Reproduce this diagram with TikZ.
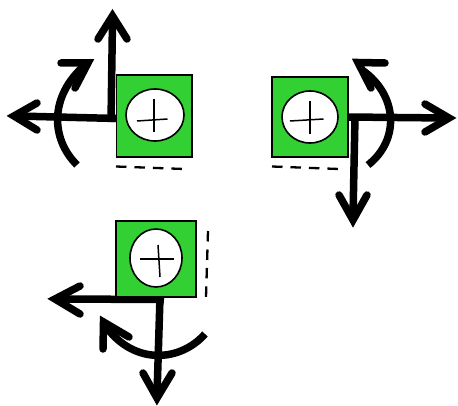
\documentclass[tikz,border=0pt]{standalone}
\tikzset{
  boxg/.style={draw=black,fill=boxgreen,line width=1.9pt,inner sep=0pt,minimum width=#1},
  wheel/.style={draw=black,fill=white,line width=1.6pt,ellipse,inner sep=0pt},
  thin cross/.style={line width=1.5pt},
  shaft/.style={line width=7.5pt,line cap=butt},
  head/.style={line width=7.5pt,line cap=round,line join=miter,miter limit=10},
  curved/.style={line width=7.5pt,line cap=butt},
  ground/.style={line width=2.3pt,dash pattern=on 10.5pt off 8pt},
}
\definecolor{boxgreen}{RGB}{50,208,50}
\usetikzlibrary{shapes.geometric}
\begin{document}
\begin{tikzpicture}[x=1pt,y=-1pt]
\useasboundingbox (0,0) rectangle (458,406);

% left upper
\draw[shaft] (111,122) -- (112.5,20);
\draw[shaft] (117,118.5) -- (16,116);
\draw[head] (98,39) -- (112.5,16) -- (127,39);
\draw[head] (37,103) -- (14,116) -- (37,130);
\draw[curved] (77,165) .. controls (50,138) and (50,96) .. (84,66);
\draw[head] (61,63) -- (88,63) -- (75,88);
\node[boxg=75.5pt,minimum height=82pt] (boxa) at (154.25,116) {};
\node[wheel,minimum width=58pt,minimum height=52pt] (wheela) at (155,115) {};
\draw[thin cross] (154,99) -- (154,132);
\draw[thin cross] (137,121) -- (167.5,119);
\draw[ground] (116,166.5) -- (184,169);

% right upper
\draw[shaft] (348,117) -- (446,118);
\draw[shaft] (355,117) -- (353,216);
\draw[head] (425,104) -- (449,118) -- (425,132);
\draw[head] (339,195) -- (353,220) -- (367,195);
\draw[curved] (368,165) .. controls (400,140) and (398,95) .. (362,70);
\draw[head] (385,63) -- (358,62.5) -- (371,88);
\node[boxg=76pt,minimum height=80pt] (boxb) at (310,117) {};
\node[wheel,minimum width=56pt,minimum height=52pt] (wheelb) at (310,117) {};
\draw[thin cross] (310,101) -- (310,134);
\draw[thin cross] (290,121) -- (323.5,119);
\draw[ground] (272,166.5) -- (339,169);

% bottom
\draw[shaft] (164,299.5) -- (58,299);
\draw[shaft] (160,297) -- (157,395);
\draw[head] (80,286) -- (55,299) -- (80,314);
\draw[head] (143,373) -- (157,398) -- (172,373);
\draw[curved] (205,334) .. controls (180,362) and (135,365) .. (107,328);
\draw[head] (103,349) -- (103.5,322) -- (129,337);
\node[boxg=80pt,minimum height=76pt] (boxc) at (156,259) {};
\node[wheel,minimum width=52pt,minimum height=58pt] (wheelc) at (156,258) {};
\draw[thin cross] (158,245) -- (160,277);
\draw[thin cross] (140,259) -- (174,259);
\draw[ground] (208,231) -- (206,297);
\end{tikzpicture}
\end{document}
